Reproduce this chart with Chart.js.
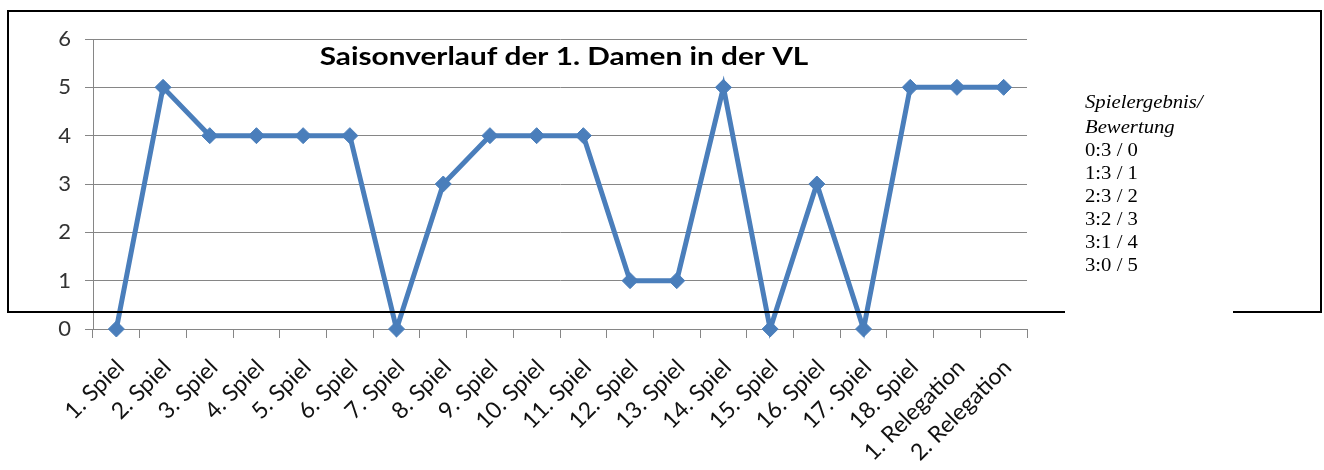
<!DOCTYPE html>
<html>
<head>
<meta charset="utf-8">
<script src="https://cdn.jsdelivr.net/npm/chart.js@4/dist/chart.umd.min.js"></script>
<style>
  body { margin: 0; background: #fff; }
  #wrap { position: relative; width: 1324px; height: 470px; overflow: hidden; }
  #grafica { position: absolute; left: 0; top: 0; }
  .rand { position: absolute; background: #000; z-index: 2; }
  #legende { position: absolute; left: 1085px; top: 91px; font-family: "Liberation Serif", serif; font-size: 18px; line-height: 23px; color: #000; z-index: 3;
    transform: scaleX(1.15); transform-origin: left top; }
  #legende i { display: block; }
</style>
</head>
<body>
<div id="wrap">
  <canvas id="grafica" width="1324" height="470"></canvas>
  <!-- Rahmen des Textfelds -->
  <div class="rand" style="left:7px;top:10px;width:1315px;height:2px"></div>
  <div class="rand" style="left:7px;top:10px;width:2px;height:303px"></div>
  <div class="rand" style="left:1320px;top:10px;width:2px;height:303px"></div>
  <div class="rand" style="left:7px;top:311px;width:1058px;height:2px"></div>
  <div class="rand" style="left:1233px;top:311px;width:89px;height:2px"></div>
  <div id="legende">
    <i style="margin-bottom:2px">Spielergebnis/</i>
    <i>Bewertung</i>
    <div>0:3 / 0</div>
    <div>1:3 / 1</div>
    <div>2:3 / 2</div>
    <div>3:2 / 3</div>
    <div>3:1 / 4</div>
    <div>3:0 / 5</div>
  </div>
</div>
<script>
// Daten
var titel = 'Saisonverlauf der 1. Damen in der VL'
var spiele = ['1. Spiel','2. Spiel','3. Spiel','4. Spiel','5. Spiel','6. Spiel','7. Spiel','8. Spiel','9. Spiel','10. Spiel',
  '11. Spiel','12. Spiel','13. Spiel','14. Spiel','15. Spiel','16. Spiel','17. Spiel','18. Spiel','1. Relegation','2. Relegation']
var bewertung = [0,5,4,4,4,4,0,3,4,4,4,1,1,5,0,3,0,5,5,5]
var yTicks = [0,1,2,3,4,5,6]

var blau = '#4A7EBB'
var grau = '#868686'

// Titel mitten im Diagramm (etwas in die Breite gezogen wie im Original)
var titelPlugin = {
  id: 'titelText',
  afterDraw: function(chart) {
    var c = chart.ctx
    c.save()
    c.translate(564, 65)
    c.scale(1.24, 1)
    c.font = 'bold 24px Lato'
    c.fillStyle = '#000'
    c.textAlign = 'center'
    c.textBaseline = 'alphabetic'
    c.fillText(titel, 0, 0)
    c.restore()
  }
}

var ctx = document.getElementById('grafica')
var grafica = new Chart(ctx, {
  type: 'line',
  data: {
    labels: spiele,
    datasets: [{
      data: bewertung,
      borderColor: blau,
      backgroundColor: blau,
      borderWidth: 5,
      tension: 0,
      pointStyle: 'rectRot',
      pointRadius: 8,
      pointBorderWidth: 1,
      pointBackgroundColor: blau,
      pointBorderColor: blau,
      clip: false
    }]
  },
  options: {
    responsive: false,
    animation: false,
    layout: { padding: { left: 0, top: 39, right: 297, bottom: 0 } },
    plugins: { legend: { display: false }, tooltip: { enabled: false } },
    scales: {
      x: {
        offset: true,
        grid: { offset: true, drawOnChartArea: false, color: grau, tickLength: 9 },
        border: { display: false },
        ticks: { autoSkip: false, minRotation: 45, maxRotation: 45, padding: 16, labelOffset: 4,
          font: { family: 'Lato', size: 23 }, color: '#111' },
        afterFit: function(s) { s.height = 141 }
      },
      y: {
        min: 0,
        max: 6,
        afterBuildTicks: function(s) { s.ticks = yTicks.map(function(v) { return { value: v } }) },
        ticks: { padding: 14, font: { family: 'Lato', size: 22 }, color: '#333' },
        grid: { color: grau, tickLength: 8 },
        border: { color: grau },
        afterFit: function(s) { s.width = 93 }
      }
    }
  },
  plugins: [titelPlugin]
})
</script>
</body>
</html>
